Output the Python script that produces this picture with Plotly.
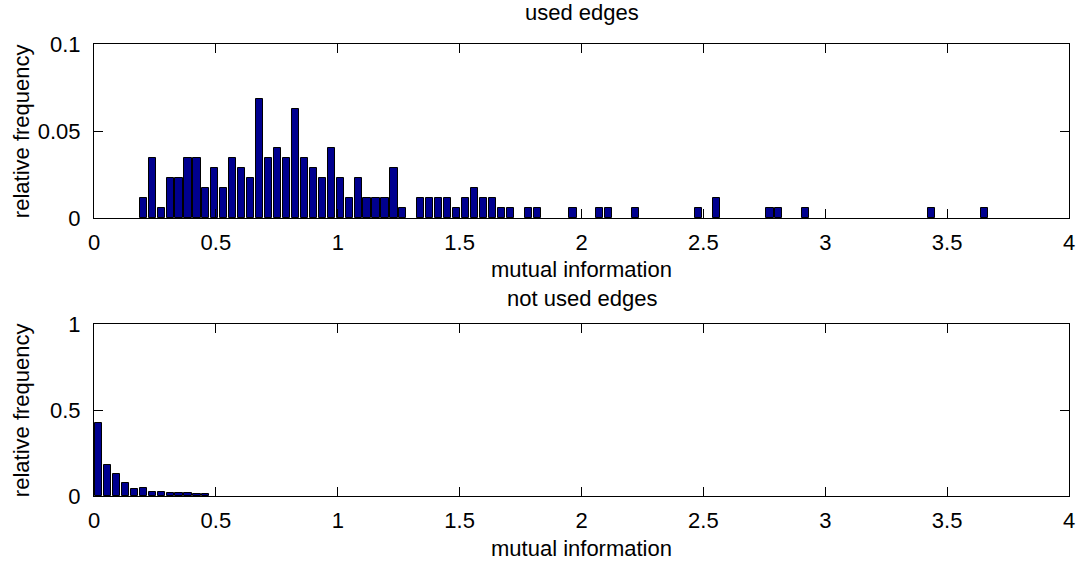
import plotly.graph_objects as go
from plotly.subplots import make_subplots

# ---- data (bin centres and relative frequencies) ----
used_centers = [0.2020, 0.2388, 0.2755, 0.3122, 0.3490, 0.3857, 0.4224, 0.4591,
                0.4959, 0.5326, 0.5693, 0.6061, 0.6428, 0.6795, 0.7162, 0.7530,
                0.7897, 0.8264, 0.8632, 0.8999, 0.9366, 0.9734, 1.0101, 1.0468,
                1.0836, 1.1203, 1.1570, 1.1937, 1.2305, 1.2672,
                1.3407, 1.3774, 1.4141, 1.4509, 1.4876, 1.5243, 1.5611, 1.5978,
                1.6345, 1.6712, 1.7080,
                1.7814, 1.8182, 1.9651, 2.0753, 2.1120, 2.2222, 2.4793, 2.5527,
                2.7731, 2.8098, 2.9200, 3.4342, 3.6546]
used_freq = [0.0114, 0.0343, 0.0057, 0.0229, 0.0229, 0.0343, 0.0343, 0.0171,
             0.0286, 0.0171, 0.0343, 0.0286, 0.0229, 0.0686, 0.0343, 0.0400,
             0.0343, 0.0629, 0.0343, 0.0286, 0.0229, 0.0400, 0.0229, 0.0114,
             0.0229, 0.0114, 0.0114, 0.0114, 0.0286, 0.0057,
             0.0114, 0.0114, 0.0114, 0.0114, 0.0057, 0.0114, 0.0171, 0.0114,
             0.0114, 0.0057, 0.0057,
             0.0057, 0.0057, 0.0057, 0.0057, 0.0057, 0.0057, 0.0057, 0.0114,
             0.0057, 0.0057, 0.0057, 0.0057, 0.0057]

notused_centers = [0.0184, 0.0551, 0.0918, 0.1286, 0.1653, 0.2020, 0.2388,
                   0.2755, 0.3122, 0.3490, 0.3857, 0.4224, 0.4591]
notused_freq = [0.4225, 0.183, 0.129, 0.077, 0.038, 0.044, 0.026,
                0.024, 0.016, 0.020, 0.015, 0.009, 0.009]

x_ticks = [0, 0.5, 1, 1.5, 2, 2.5, 3, 3.5, 4]
x_ticklabels = ["0", "0.5", "1", "1.5", "2", "2.5", "3", "3.5", "4"]
y1_ticks = [0, 0.05, 0.1]
y1_ticklabels = ["0", "0.05", "0.1"]
y2_ticks = [0, 0.5, 1]
y2_ticklabels = ["0", "0.5", "1"]

BAR_W = 0.0294
FILL = "#00008F"
FONT = "Liberation Sans, Arial, sans-serif"
FS = 22

fig = make_subplots(rows=2, cols=1)

fig.add_trace(go.Bar(x=used_centers, y=used_freq, width=BAR_W,
                     marker=dict(color=FILL, line=dict(color="black", width=1)),
                     showlegend=False), row=1, col=1)
fig.add_trace(go.Bar(x=notused_centers, y=notused_freq, width=BAR_W,
                     marker=dict(color=FILL, line=dict(color="black", width=1)),
                     showlegend=False), row=2, col=1)

W, H = 1087, 561
L, R, T, B = 94, 16, 44, 65
ph = H - T - B  # 452

def py(pix):
    return (H - B - pix) / ph

def px(pix):
    return (pix - L) / (W - L - R)

axis_common = dict(showline=True, linecolor="black", linewidth=1, mirror="ticks",
                   ticks="inside", ticklen=9, tickcolor="black", tickwidth=1,
                   showgrid=False, zeroline=False,
                   tickfont=dict(family=FONT, size=FS, color="black"))

fig.update_xaxes(range=[0, 4], tickvals=x_ticks, ticktext=x_ticklabels,
                 ticklabelstandoff=5, **axis_common)
fig.update_yaxes(ticklabelstandoff=8, **axis_common)
fig.update_yaxes(range=[0, 0.1], tickvals=y1_ticks, ticktext=y1_ticklabels, row=1, col=1)
fig.update_yaxes(range=[0, 1], tickvals=y2_ticks, ticktext=y2_ticklabels, row=2, col=1)

fig.update_layout(
    width=W, height=H,
    margin=dict(l=L, r=R, t=T, b=B),
    plot_bgcolor="white", paper_bgcolor="white",
    bargap=0,
    xaxis=dict(domain=[0, 1]), xaxis2=dict(domain=[0, 1]),
    yaxis=dict(domain=[py(218), 1]),
    yaxis2=dict(domain=[0, py(324)]),
    font=dict(family=FONT, size=FS, color="black"),
)

def ann(text, x, y, angle=0):
    fig.add_annotation(text=text, xref="paper", yref="paper", x=x, y=y,
                       xanchor="center", yanchor="middle", showarrow=False,
                       textangle=angle,
                       font=dict(family=FONT, size=FS, color="black"))

cx = px((L + W - R) / 2)
ann("used edges", cx, py(13))
ann("mutual information", cx, py(269))
ann("not used edges", cx, py(298))
ann("mutual information", cx, py(548))
ann("relative frequency", px(21), py(131), -90)
ann("relative frequency", px(21), py(410), -90)

fig.write_html("out.html")
